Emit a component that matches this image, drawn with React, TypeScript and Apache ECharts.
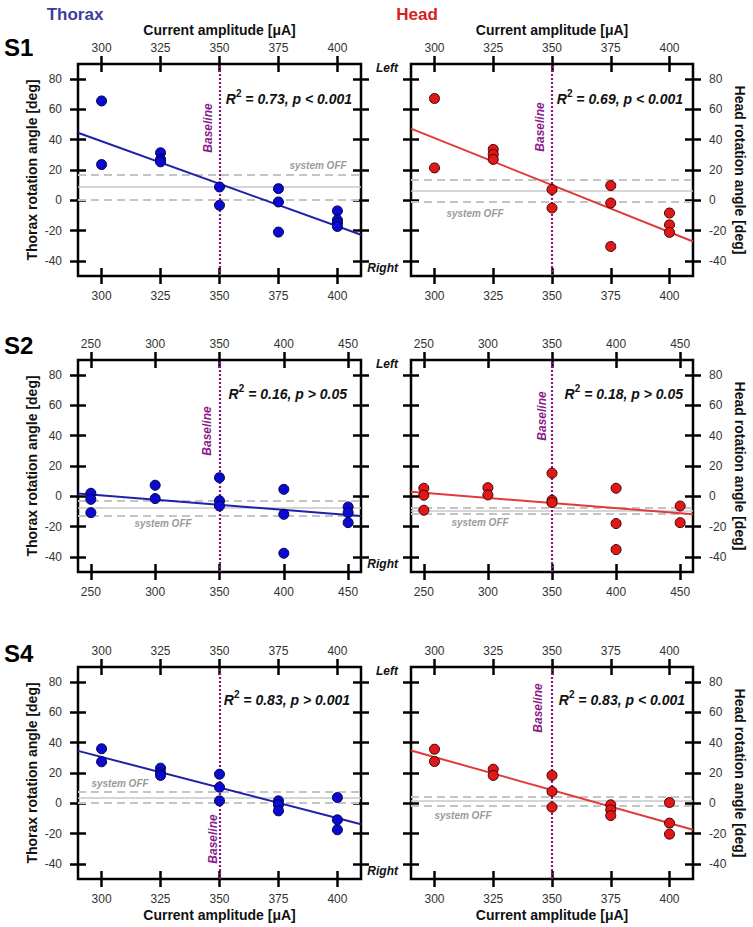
import React, { useEffect, useRef } from "react";
import * as echarts from "echarts";

const FONT = "'Liberation Sans', Arial, sans-serif";

// ---- tick values ----
const xTicksA = [300, 325, 350, 375, 400];
const xTicksB = [250, 300, 350, 400, 450];
const yTicks = [-40, -20, 0, 20, 40, 60, 80];
const xRangeA = [290, 410];
const xRangeB = [240, 460];
const yRange = [-50, 90];
const baselineX = 350;

// ---- S1 ----
const s1ThoraxX = [300, 300, 325, 325, 325, 350, 350, 375, 375, 375, 400, 400, 400, 400];
const s1ThoraxY = [65.6, 23.6, 31.4, 27, 25.4, 8.8, -3.3, 7.7, -1.1, -21, -7, -13, -15, -17.3];
const s1HeadX = [300, 300, 325, 325, 325, 350, 350, 375, 375, 375, 400, 400, 400];
const s1HeadY = [67.2, 21.4, 33.6, 30.3, 27, 7.1, -5.1, 9.7, -1.8, -30.5, -8.4, -16.2, -21.2];
const s1ThoraxFit = [[290, 44.6], [410, -22.8]];
const s1HeadFit = [[290, 47.3], [410, -27.2]];
const s1ThoraxOff = [17, 8.8, 0.4];
const s1HeadOff = [13.7, 6, -1];

// ---- S2 ----
const s2ThoraxX = [250, 250, 250, 300, 300, 350, 350, 350, 400, 400, 400, 450, 450, 450];
const s2ThoraxY = [2, -2, -10.8, 7.3, -1.5, 12.3, -3, -6.4, 4.6, -11.9, -37.6, -7, -10.8, -17.4];
const s2HeadX = [250, 250, 250, 300, 300, 350, 350, 350, 400, 400, 400, 450, 450];
const s2HeadY = [5.3, 0.7, -9.2, 5.7, 0.9, 15.2, -2.6, -4.2, 5.3, -18, -35.2, -6.4, -17.4];
const s2ThoraxFit = [[240, 1.8], [460, -13]];
const s2HeadFit = [[240, 3], [460, -11.9]];
const s2ThoraxOff = [-3, -7.9, -13];
const s2HeadOff = [-7.9, -9.7, -11.4];

// ---- S4 ----
const s4ThoraxX = [300, 300, 325, 325, 325, 350, 350, 350, 375, 375, 375, 400, 400, 400];
const s4ThoraxY = [36, 27.4, 23.2, 20.3, 18.4, 19.2, 10.6, 1.6, 1.6, -1, -5, 3.8, -10.9, -17.5];
const s4HeadX = [300, 300, 325, 325, 350, 350, 350, 375, 375, 375, 400, 400, 400];
const s4HeadY = [35.7, 27.6, 22.5, 18.4, 18.4, 7.8, -2.6, -1, -4.3, -8.1, 0.5, -13.1, -20.4];
const s4ThoraxFit = [[290, 34.6], [410, -13.8]];
const s4HeadFit = [[290, 34.9], [410, -17.5]];
const s4ThoraxOff = [7.3, 3.8, 0.5];
const s4HeadOff = [4.5, 1.6, -1.5];

const statR2 = ["0.73", "0.69", "0.16", "0.18", "0.83", "0.83"];
const statP = ["p < 0.001", "p < 0.001", "p > 0.05", "p > 0.05", "p > 0.001", "p < 0.001"];

const BLUE_FILL = "#0a0ad0";
const BLUE_EDGE = "#000050";
const BLUE_LINE = "#2020a8";
const RED_FILL = "#e01818";
const RED_EDGE = "#400000";
const RED_LINE = "#e03a3a";

const LEFT_X = 78;
const RIGHT_X = 411;
const PW = 283;
const ROW_TOP = [64, 360, 667];
const PH = 212;

export default function App() {
  const ref = useRef<HTMLDivElement>(null);

  useEffect(() => {
    if (!ref.current) return;
    const chart = echarts.init(ref.current, undefined, { renderer: "svg" });

    const panels = [
      { xs: s1ThoraxX, ys: s1ThoraxY, fit: s1ThoraxFit, off: s1ThoraxOff, xr: xRangeA, xt: xTicksA, side: "left", row: 0, fill: BLUE_FILL, edge: BLUE_EDGE, line: BLUE_LINE },
      { xs: s1HeadX, ys: s1HeadY, fit: s1HeadFit, off: s1HeadOff, xr: xRangeA, xt: xTicksA, side: "right", row: 0, fill: RED_FILL, edge: RED_EDGE, line: RED_LINE },
      { xs: s2ThoraxX, ys: s2ThoraxY, fit: s2ThoraxFit, off: s2ThoraxOff, xr: xRangeB, xt: xTicksB, side: "left", row: 1, fill: BLUE_FILL, edge: BLUE_EDGE, line: BLUE_LINE },
      { xs: s2HeadX, ys: s2HeadY, fit: s2HeadFit, off: s2HeadOff, xr: xRangeB, xt: xTicksB, side: "right", row: 1, fill: RED_FILL, edge: RED_EDGE, line: RED_LINE },
      { xs: s4ThoraxX, ys: s4ThoraxY, fit: s4ThoraxFit, off: s4ThoraxOff, xr: xRangeA, xt: xTicksA, side: "left", row: 2, fill: BLUE_FILL, edge: BLUE_EDGE, line: BLUE_LINE },
      { xs: s4HeadX, ys: s4HeadY, fit: s4HeadFit, off: s4HeadOff, xr: xRangeA, xt: xTicksA, side: "right", row: 2, fill: RED_FILL, edge: RED_EDGE, line: RED_LINE },
    ];

    const grids: any[] = [];
    const xAxes: any[] = [];
    const yAxes: any[] = [];
    const series: any[] = [];
    const tickStyle = { color: "#000", width: 2.5 };
    const lbl = { fontSize: 12, color: "#333", fontFamily: FONT };

    panels.forEach((p, gi) => {
      grids.push({
        left: p.side === "left" ? LEFT_X : RIGHT_X,
        top: ROW_TOP[p.row],
        width: PW - (p.side === "left" ? 0 : 1),
        height: PH,
        show: true,
        borderColor: "#000",
        borderWidth: 2.5,
        backgroundColor: "transparent",
      });
      const xb = {
        type: "value", gridIndex: gi, min: p.xr[0], max: p.xr[1],
        splitLine: { show: false }, axisLine: { show: false, onZero: false },
      };
      const mkX = (position: string, inside: boolean, showLabel: boolean, margin: number) => ({
        ...xb, position,
        axisTick: { show: true, inside, length: 8, customValues: p.xt, lineStyle: tickStyle },
        axisLabel: { show: showLabel, customValues: p.xt, margin, ...lbl },
      });
      xAxes.push(mkX("bottom", false, true, 14), mkX("bottom", true, false, 14), mkX("top", false, true, 10), mkX("top", true, false, 10));
      const yb = {
        type: "value", gridIndex: gi, min: yRange[0], max: yRange[1],
        splitLine: { show: false }, axisLine: { show: false, onZero: false },
      };
      const mkY = (position: string, inside: boolean, showLabel: boolean) => ({
        ...yb, position,
        axisTick: { show: true, inside, length: 8, customValues: yTicks, lineStyle: tickStyle },
        axisLabel: { show: showLabel, customValues: yTicks, margin: 16, ...lbl },
      });
      yAxes.push(
        mkY("left", false, p.side === "left"),
        mkY("left", true, false),
        mkY("right", false, p.side === "right"),
        mkY("right", true, false)
      );
      const dashed = { color: "#c4c4c4", width: 2, type: [8, 5] };
      series.push({
        type: "line",
        xAxisIndex: gi * 4,
        yAxisIndex: gi * 4,
        data: p.fit,
        showSymbol: false,
        symbol: "none",
        lineStyle: { color: p.line, width: 2 },
        z: 3,
        markLine: {
          silent: true,
          symbol: ["none", "none"],
          label: { show: false },
          z: 2,
          data: [
            { yAxis: p.off[0], lineStyle: dashed },
            { yAxis: p.off[1], lineStyle: { color: "#c8c8c8", width: 1.6, type: "solid" } },
            { yAxis: p.off[2], lineStyle: dashed },
            { xAxis: baselineX, lineStyle: { color: "#8a168a", width: 2.2, type: [2, 2] } },
          ],
        },
      });
      series.push({
        type: "scatter",
        xAxisIndex: gi * 4,
        yAxisIndex: gi * 4,
        data: p.xs.map((x, i) => [x, p.ys[i]]),
        symbolSize: 10,
        itemStyle: { color: p.fill, borderColor: p.edge, borderWidth: 1, opacity: 1 },
        z: 4,
      });
    });

    const txt = (text: string, x: number, y: number, font: string, fill: string, align = "center", rotation = 0) => ({
      type: "text",
      x, y, rotation,
      style: { text, font, fill, align, verticalAlign: "middle", textAlign: align, textVerticalAlign: "middle" },
      z: 10,
    });

    const graphics: any[] = [];
    graphics.push(txt("Thorax", 75, 14, `bold 17px ${FONT}`, "#3d3d9e"));
    graphics.push(txt("Head", 417, 14, `bold 17px ${FONT}`, "#d42020"));
    graphics.push(txt("S1", 4, 47, `bold 24px ${FONT}`, "#000", "left"));
    graphics.push(txt("S2", 4, 345, `bold 24px ${FONT}`, "#000", "left"));
    graphics.push(txt("S4", 4, 653, `bold 24px ${FONT}`, "#000", "left"));
    graphics.push(txt("Current amplitude [μA]", 219.5, 30, `bold 14px ${FONT}`, "#111"));
    graphics.push(txt("Current amplitude [μA]", 552, 30, `bold 14px ${FONT}`, "#111"));
    graphics.push(txt("Current amplitude [μA]", 219.5, 915, `bold 14px ${FONT}`, "#111"));
    graphics.push(txt("Current amplitude [μA]", 552, 915, `bold 14px ${FONT}`, "#111"));
    ROW_TOP.forEach((t) => {
      graphics.push(txt("Thorax rotation angle [deg]", 32, t + PH / 2, `bold 14px ${FONT}`, "#111", "center", Math.PI / 2));
      graphics.push(txt("Head rotation angle [deg]", 740, t + PH / 2, `bold 14px ${FONT}`, "#111", "center", -Math.PI / 2));
      graphics.push(txt("Left", 398, t + 4, `italic bold 12px ${FONT}`, "#111", "right"));
      graphics.push(txt("Right", 398, t + PH - 8, `italic bold 12px ${FONT}`, "#111", "right"));
    });
    const statPos = [
      [352, 97], [683, 97], [347, 392], [683, 392], [350, 698], [685, 698],
    ];
    statR2.forEach((r, i) => {
      graphics.push({
        type: "text",
        x: statPos[i][0],
        y: statPos[i][1],
        z: 10,
        style: {
          text: `{n|R}{s|2}{n| = ${r}, ${statP[i]}}`,
          align: "right",
          verticalAlign: "middle",
          textAlign: "right",
          textVerticalAlign: "middle",
          fill: "#111",
          rich: {
            n: { font: `italic bold 14px ${FONT}`, fill: "#111", lineHeight: 18, verticalAlign: "bottom" },
            s: { font: `bold 10px ${FONT}`, fill: "#111", lineHeight: 18, verticalAlign: "top" },
          },
        },
      });
    });
    const basePos = [[208, 128], [540, 127], [207, 431], [542, 416], [213, 839], [538, 708]];
    basePos.forEach((b) => graphics.push(txt("Baseline", b[0], b[1], `italic bold 12px ${FONT}`, "#8a1a8a", "center", Math.PI / 2)));
    const offPos = [[318, 165], [475, 213], [163, 523], [480, 522], [120, 783], [463, 815]];
    offPos.forEach((o) => graphics.push(txt("system OFF", o[0], o[1], `italic bold 10px ${FONT}`, "#9a9a9a")));

    chart.setOption({
      animation: false,
      backgroundColor: "#fff",
      grid: grids,
      xAxis: xAxes,
      yAxis: yAxes,
      series,
      graphic: { elements: graphics },
    });
    return () => chart.dispose();
  }, []);

  return <div ref={ref} style={{ position: "absolute", left: 0, top: 0, width: 753, height: 927 }} />;
}
